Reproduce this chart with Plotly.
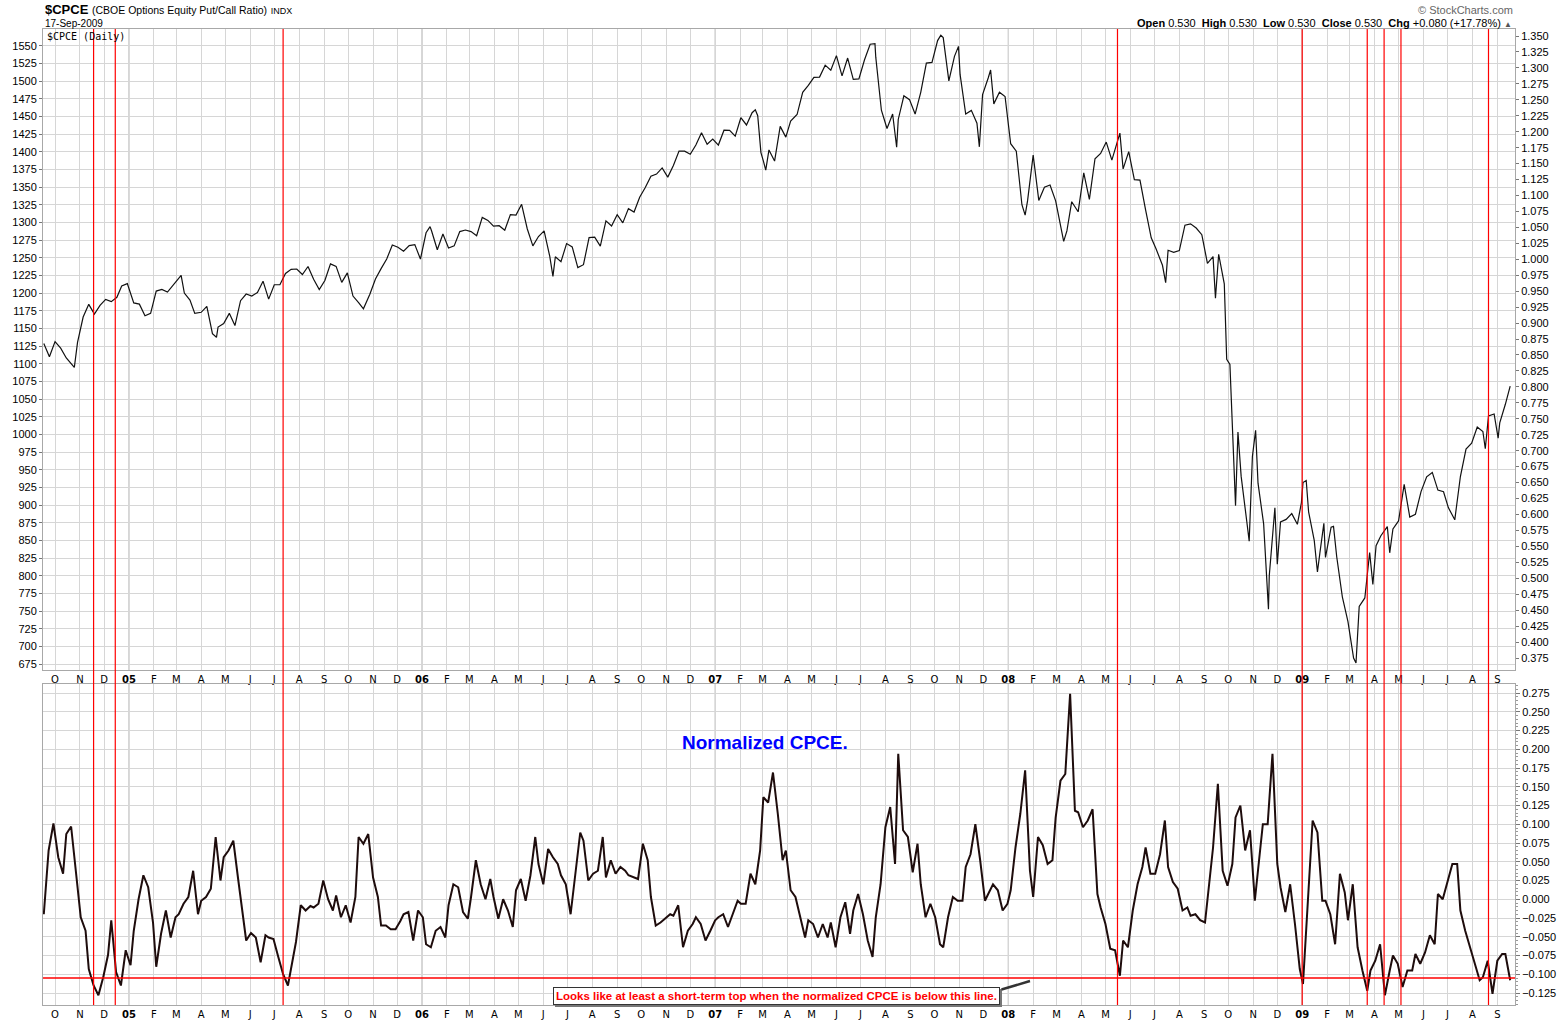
import pandas as pd
import plotly.graph_objects as go

# ---------------- data ----------------
SPX_2004 = [("2004-09-17", 1128.6), ("2004-09-24", 1110.1), ("2004-10-01", 1131.5), ("2004-10-08", 1122.1),
            ("2004-10-15", 1108.2), ("2004-10-25", 1094.8), ("2004-10-29", 1130.2), ("2004-11-05", 1166.2),
            ("2004-11-12", 1184.2), ("2004-11-19", 1170.3), ("2004-11-26", 1182.7), ("2004-12-03", 1191.2),
            ("2004-12-10", 1188.0), ("2004-12-17", 1194.2), ("2004-12-23", 1210.1), ("2004-12-30", 1213.5)]
SPX_2005 = [("2005-01-07", 1186.2), ("2005-01-14", 1184.5), ("2005-01-21", 1167.9), ("2005-01-28", 1171.4),
            ("2005-02-04", 1203.0), ("2005-02-11", 1205.3), ("2005-02-18", 1201.6), ("2005-02-25", 1211.4),
            ("2005-03-04", 1222.1), ("2005-03-07", 1225.3), ("2005-03-11", 1200.1), ("2005-03-18", 1190.2),
            ("2005-03-24", 1171.4), ("2005-04-01", 1172.9), ("2005-04-08", 1181.2), ("2005-04-15", 1142.6),
            ("2005-04-20", 1137.5), ("2005-04-22", 1152.1), ("2005-04-29", 1156.9), ("2005-05-06", 1171.4),
            ("2005-05-13", 1154.1), ("2005-05-20", 1189.3), ("2005-05-27", 1198.8), ("2005-06-03", 1196.0),
            ("2005-06-10", 1200.9), ("2005-06-17", 1217.0), ("2005-06-24", 1191.6), ("2005-07-01", 1211.9),
            ("2005-07-08", 1211.9), ("2005-07-15", 1227.9), ("2005-07-22", 1233.7), ("2005-07-29", 1234.2),
            ("2005-08-05", 1226.4), ("2005-08-12", 1237.8), ("2005-08-19", 1219.7), ("2005-08-26", 1205.1),
            ("2005-09-02", 1218.0), ("2005-09-09", 1241.5), ("2005-09-16", 1237.9), ("2005-09-23", 1215.3),
            ("2005-09-30", 1228.8), ("2005-10-07", 1195.9), ("2005-10-14", 1186.6), ("2005-10-20", 1177.8),
            ("2005-10-28", 1198.4), ("2005-11-04", 1220.1), ("2005-11-11", 1234.7), ("2005-11-18", 1248.3),
            ("2005-11-25", 1268.3), ("2005-12-02", 1265.1), ("2005-12-09", 1259.4), ("2005-12-16", 1267.3),
            ("2005-12-23", 1268.7), ("2005-12-30", 1248.3)]
SPX_2006 = [("2006-01-06", 1285.5), ("2006-01-11", 1294.2), ("2006-01-13", 1287.6), ("2006-01-20", 1261.5),
            ("2006-01-27", 1283.7), ("2006-02-03", 1264.0), ("2006-02-10", 1267.0), ("2006-02-17", 1287.2),
            ("2006-02-24", 1289.4), ("2006-03-03", 1287.2), ("2006-03-10", 1281.4), ("2006-03-17", 1307.3),
            ("2006-03-24", 1303.0), ("2006-03-31", 1294.8), ("2006-04-07", 1295.5), ("2006-04-14", 1289.1),
            ("2006-04-21", 1311.3), ("2006-04-28", 1310.6), ("2006-05-05", 1325.8), ("2006-05-12", 1291.2),
            ("2006-05-19", 1267.0), ("2006-05-26", 1280.2), ("2006-06-02", 1288.2), ("2006-06-09", 1252.3),
            ("2006-06-13", 1223.7), ("2006-06-16", 1251.5), ("2006-06-23", 1244.5), ("2006-06-30", 1270.2),
            ("2006-07-07", 1265.5), ("2006-07-14", 1236.2), ("2006-07-21", 1240.3), ("2006-07-28", 1278.6),
            ("2006-08-04", 1279.4), ("2006-08-11", 1266.7), ("2006-08-18", 1302.3), ("2006-08-25", 1295.1),
            ("2006-09-01", 1311.0), ("2006-09-08", 1299.5), ("2006-09-15", 1319.7), ("2006-09-22", 1314.8),
            ("2006-09-29", 1335.9), ("2006-10-06", 1349.6), ("2006-10-13", 1365.6), ("2006-10-20", 1368.6),
            ("2006-10-27", 1377.3), ("2006-11-03", 1364.3), ("2006-11-10", 1380.9), ("2006-11-17", 1401.2),
            ("2006-11-24", 1401.0), ("2006-12-01", 1396.7), ("2006-12-08", 1409.8), ("2006-12-15", 1427.1),
            ("2006-12-22", 1410.8), ("2006-12-29", 1418.3)]
SPX_2007 = [("2007-01-05", 1409.7), ("2007-01-12", 1430.7), ("2007-01-19", 1430.5), ("2007-01-26", 1422.2),
            ("2007-02-02", 1448.4), ("2007-02-09", 1438.1), ("2007-02-16", 1455.5), ("2007-02-20", 1459.7),
            ("2007-02-23", 1451.2), ("2007-02-27", 1399.0), ("2007-03-02", 1387.2), ("2007-03-05", 1374.1),
            ("2007-03-09", 1402.8), ("2007-03-16", 1387.0), ("2007-03-23", 1436.1), ("2007-03-30", 1420.9),
            ("2007-04-05", 1443.8), ("2007-04-13", 1452.9), ("2007-04-20", 1484.4), ("2007-04-27", 1494.1),
            ("2007-05-04", 1505.6), ("2007-05-11", 1505.9), ("2007-05-18", 1522.8), ("2007-05-25", 1515.7),
            ("2007-06-01", 1536.3), ("2007-06-08", 1507.7), ("2007-06-15", 1532.9), ("2007-06-22", 1502.6),
            ("2007-06-29", 1503.4), ("2007-07-06", 1530.4), ("2007-07-13", 1552.5), ("2007-07-19", 1553.1),
            ("2007-07-20", 1534.1), ("2007-07-27", 1459.0), ("2007-08-03", 1433.1), ("2007-08-10", 1453.6),
            ("2007-08-15", 1406.7), ("2007-08-17", 1445.9), ("2007-08-24", 1479.4), ("2007-08-31", 1474.0),
            ("2007-09-07", 1453.6), ("2007-09-14", 1484.3), ("2007-09-21", 1525.8), ("2007-09-28", 1526.8),
            ("2007-10-05", 1557.6), ("2007-10-09", 1565.2), ("2007-10-12", 1561.8), ("2007-10-19", 1500.6),
            ("2007-10-26", 1535.3), ("2007-10-31", 1549.4), ("2007-11-02", 1509.7), ("2007-11-09", 1453.7),
            ("2007-11-16", 1458.8), ("2007-11-23", 1440.7), ("2007-11-26", 1407.2), ("2007-11-30", 1481.1),
            ("2007-12-07", 1504.7), ("2007-12-10", 1516.0), ("2007-12-14", 1468.0), ("2007-12-21", 1484.5),
            ("2007-12-28", 1478.5)]
SPX_2008 = [("2008-01-04", 1411.6), ("2008-01-11", 1401.0), ("2008-01-18", 1325.2), ("2008-01-22", 1310.5),
            ("2008-01-25", 1330.6), ("2008-02-01", 1395.4), ("2008-02-08", 1331.3), ("2008-02-15", 1350.0),
            ("2008-02-22", 1353.1), ("2008-02-29", 1330.6), ("2008-03-07", 1293.4), ("2008-03-10", 1273.4),
            ("2008-03-14", 1288.1), ("2008-03-20", 1329.5), ("2008-03-28", 1315.2), ("2008-04-04", 1370.4),
            ("2008-04-11", 1332.8), ("2008-04-18", 1390.3), ("2008-04-25", 1397.8), ("2008-05-02", 1413.9),
            ("2008-05-09", 1388.3), ("2008-05-19", 1426.6), ("2008-05-23", 1375.9), ("2008-05-30", 1400.4),
            ("2008-06-06", 1360.7), ("2008-06-13", 1360.0), ("2008-06-20", 1317.9), ("2008-06-27", 1278.4),
            ("2008-07-03", 1262.9), ("2008-07-11", 1239.5), ("2008-07-15", 1214.9), ("2008-07-18", 1260.7),
            ("2008-07-25", 1257.8), ("2008-08-01", 1260.3), ("2008-08-08", 1296.3), ("2008-08-15", 1298.2),
            ("2008-08-22", 1292.2), ("2008-08-29", 1282.8), ("2008-09-05", 1242.3), ("2008-09-12", 1251.7),
            ("2008-09-15", 1192.7), ("2008-09-19", 1255.1), ("2008-09-26", 1213.3), ("2008-09-29", 1106.4),
            ("2008-10-03", 1099.2), ("2008-10-10", 899.2), ("2008-10-13", 1003.4), ("2008-10-17", 940.6),
            ("2008-10-24", 876.8), ("2008-10-27", 848.9), ("2008-10-31", 968.8), ("2008-11-04", 1005.8),
            ("2008-11-07", 931.0), ("2008-11-14", 873.3), ("2008-11-20", 752.4), ("2008-11-21", 800.0),
            ("2008-11-28", 896.2), ("2008-12-01", 816.2), ("2008-12-05", 876.1), ("2008-12-12", 879.7),
            ("2008-12-19", 887.9), ("2008-12-26", 872.8), ("2008-12-31", 903.3)]
SPX_2009 = [("2009-01-02", 931.8), ("2009-01-06", 934.7), ("2009-01-09", 890.4), ("2009-01-16", 850.1),
            ("2009-01-20", 805.2), ("2009-01-23", 832.0), ("2009-01-28", 874.1), ("2009-01-30", 825.9),
            ("2009-02-06", 868.6), ("2009-02-09", 869.9), ("2009-02-13", 826.8), ("2009-02-20", 770.1),
            ("2009-02-27", 735.1), ("2009-03-06", 683.4), ("2009-03-09", 676.5), ("2009-03-13", 756.6),
            ("2009-03-20", 768.5), ("2009-03-26", 832.9), ("2009-03-30", 787.5), ("2009-04-03", 842.5),
            ("2009-04-09", 856.6), ("2009-04-17", 869.6), ("2009-04-20", 832.4), ("2009-04-24", 866.2),
            ("2009-05-01", 877.5), ("2009-05-08", 929.2), ("2009-05-15", 882.9), ("2009-05-22", 887.0),
            ("2009-05-29", 919.1), ("2009-06-05", 940.1), ("2009-06-12", 946.2), ("2009-06-19", 921.2),
            ("2009-06-26", 918.9), ("2009-07-02", 896.4), ("2009-07-10", 879.1), ("2009-07-17", 940.4),
            ("2009-07-24", 979.3), ("2009-07-31", 987.5), ("2009-08-07", 1010.5), ("2009-08-14", 1004.1),
            ("2009-08-17", 979.7), ("2009-08-21", 1026.1), ("2009-08-28", 1028.9), ("2009-09-02", 994.8),
            ("2009-09-04", 1016.4), ("2009-09-11", 1042.7), ("2009-09-17", 1068.3)]

# normalized CPCE, one reading every 4 business days from the start date
CPCE_START = "2004-09-17"
CPCE_NORM = [
    -0.020, 0.065, 0.101, 0.056, 0.034, 0.087, 0.097, 0.038, -0.024, -0.042,
    -0.093, -0.115, -0.128, -0.104, -0.074, -0.028, -0.097, -0.115, -0.068, -0.088,
    -0.042, 0.000, 0.032, 0.016, -0.031, -0.090, -0.046, -0.015, -0.051, -0.024,
    -0.020, -0.006, 0.003, 0.038, -0.020, -0.002, 0.003, 0.014, 0.083, 0.025,
    0.056, 0.065, 0.078, 0.027, -0.024, -0.055, -0.045, -0.051, -0.084, -0.048,
    -0.051, -0.053, -0.077, -0.100, -0.115, -0.091, -0.057, -0.008, -0.015, -0.009,
    -0.011, -0.006, 0.025, 0.000, -0.015, 0.005, -0.024, -0.008, -0.031, 0.003,
    0.083, 0.074, 0.087, 0.029, 0.003, -0.035, -0.035, -0.040, -0.040, -0.029,
    -0.020, -0.017, -0.055, -0.015, -0.024, -0.060, -0.064, -0.042, -0.037, -0.051,
    -0.008, 0.020, 0.016, -0.017, -0.026, 0.003, 0.052, 0.020, 0.000, 0.027,
    0.003, -0.026, 0.000, -0.015, -0.037, 0.012, 0.027, -0.002, 0.032, 0.083,
    0.047, 0.020, 0.067, 0.056, 0.047, 0.032, 0.020, -0.020, 0.034, 0.089,
    0.078, 0.025, 0.034, 0.038, 0.083, 0.029, 0.052, 0.034, 0.043, 0.038,
    0.032, 0.029, 0.027, 0.074, 0.052, 0.003, -0.035, -0.031, -0.026, -0.020,
    -0.022, -0.008, -0.064, -0.042, -0.033, -0.024, -0.033, -0.055, -0.042, -0.028,
    -0.024, -0.020, -0.037, -0.020, -0.002, -0.006, -0.006, 0.034, 0.020, 0.065,
    0.136, 0.129, 0.169, 0.114, 0.052, 0.065, 0.012, 0.003, -0.024, -0.051,
    -0.028, -0.033, -0.051, -0.033, -0.051, -0.031, -0.064, -0.024, -0.004, -0.046,
    -0.015, 0.007, -0.020, -0.055, -0.077, -0.024, 0.020, 0.096, 0.123, 0.047,
    0.194, 0.092, 0.083, 0.036, 0.074, 0.020, -0.024, -0.006, -0.024, -0.060,
    -0.064, -0.024, 0.003, -0.002, -0.002, 0.043, 0.060, 0.100, 0.052, -0.002,
    0.007, 0.020, 0.012, -0.015, -0.006, 0.012, 0.069, 0.114, 0.172, 0.038,
    0.003, 0.083, 0.072, 0.047, 0.052, 0.109, 0.158, 0.167, 0.274, 0.118,
    0.116, 0.096, 0.105, 0.120, 0.007, -0.011, -0.033, -0.066, -0.068, -0.102,
    -0.055, -0.064, -0.015, 0.020, 0.043, 0.069, 0.034, 0.034, 0.060, 0.105,
    0.043, 0.023, 0.014, -0.015, -0.011, -0.022, -0.020, -0.028, -0.031, 0.029,
    0.069, 0.154, 0.038, 0.018, 0.047, 0.109, 0.125, 0.065, 0.092, -0.002,
    0.038, 0.100, 0.100, 0.194, 0.047, 0.016, -0.017, 0.020, -0.033, -0.093,
    -0.113, 0.003, 0.105, 0.089, -0.002, -0.002, -0.020, -0.060, 0.034, 0.009,
    -0.028, 0.020, -0.064, -0.095, -0.122, -0.095, -0.082, -0.060, -0.128, -0.095,
    -0.075, -0.086, -0.117, -0.095, -0.095, -0.073, -0.086, -0.071, -0.048, -0.060,
    0.007, 0.000, 0.025, 0.047, 0.047, -0.015, -0.042, -0.064, -0.086, -0.108,
    -0.104, -0.082, -0.126, -0.082, -0.073, -0.073, -0.108]

THRESHOLD = -0.105
SIGNAL_DATES = ["2004-11-18", "2004-12-15", "2005-07-12", "2008-05-16", "2009-01-01",
                "2009-03-23", "2009-04-13", "2009-05-04", "2009-08-21"]
MONTH_INITIALS = ["J", "F", "M", "A", "M", "J", "J", "A", "S", "O", "N", "D"]
X_RANGE = ["2004-09-16", "2009-09-23"]
LEFT_TICKS = list(range(675, 1551, 25))

TITLE_SYMBOL = "$CPCE"
TITLE_NAME = "(CBOE Options Equity Put/Call Ratio)"
TITLE_EXCH = "INDX"
DATE_TEXT = "17-Sep-2009"
PANEL_LABEL = "$CPCE (Daily)"
QUOTE = [("Open", "0.530"), ("High", "0.530"), ("Low", "0.530"), ("Close", "0.530"),
         ("Chg", "+0.080 (+17.78%)")]
NOTE_TEXT = "Looks like at least a short-term top when the normalized CPCE is below this line."
PANEL_TITLE = "Normalized CPCE."

# ---------------- build ----------------
spx = SPX_2004 + SPX_2005 + SPX_2006 + SPX_2007 + SPX_2008 + SPX_2009
spx_dates = [d for d, _ in spx]
spx_vals = [v for _, v in spx]
cpce_dates = pd.bdate_range(CPCE_START, periods=len(CPCE_NORM), freq="4B")

month_starts = pd.date_range("2004-10-01", "2009-09-01", freq="MS")
tick_text = [("<b>%02d</b>" % (d.year % 100)) if d.month == 1 else MONTH_INITIALS[d.month - 1]
             for d in month_starts]
year_starts = [d for d in month_starts if d.month == 1]

W, H = 1565, 1021
ML, MR, MT, MB = 43, 50, 29, 16
PH = H - MT - MB
TOP_DOM = [(PH - (670 - MT)) / PH, 1.0]
BOT_DOM = [0.0, (PH - (684 - MT)) / PH]

GRID = "#d6d6d6"
FRAME = "#a8a8a8"
TICKFONT = dict(family="Liberation Sans, Arial, sans-serif", size=11, color="#000")
MONTHFONT = dict(family="DejaVu Sans, Verdana, sans-serif", size=10, color="#000")

fig = go.Figure()
fig.add_trace(go.Scatter(x=spx_dates, y=spx_vals, mode="lines", xaxis="x", yaxis="y",
                         line=dict(color="#111", width=1.2), hoverinfo="skip", showlegend=False))
fig.add_trace(go.Scatter(x=[], y=[], xaxis="x", yaxis="y2", showlegend=False, hoverinfo="skip"))
fig.add_trace(go.Scatter(x=cpce_dates, y=CPCE_NORM, mode="lines", xaxis="x2", yaxis="y3",
                         line=dict(color="#1e0c0c", width=2), hoverinfo="skip", showlegend=False))

xcommon = dict(type="date", range=X_RANGE, tickmode="array", tickvals=month_starts, ticktext=tick_text,
               showgrid=True, gridcolor=GRID, gridwidth=1, showline=True, linecolor=FRAME, mirror=True,
               ticks="", tickfont=MONTHFONT, zeroline=False, tickangle=0, automargin=False)

fig.update_layout(
    template="none",
    width=W, height=H, margin=dict(l=ML, r=MR, t=MT, b=MB, pad=0, autoexpand=False),
    paper_bgcolor="white", plot_bgcolor="white",
    xaxis=dict(domain=[0, 1], anchor="y", **xcommon),
    xaxis2=dict(domain=[0, 1], anchor="y3", matches="x", **xcommon),
    yaxis=dict(domain=TOP_DOM, range=[666.5, 1574], side="left", tickmode="array", tickvals=LEFT_TICKS,
               showgrid=True, gridcolor=GRID, gridwidth=1, showline=True, linecolor=FRAME, mirror=True,
               ticks="outside", ticklen=3, tickcolor="#777", tickfont=TICKFONT, zeroline=False,
               automargin=False),
    yaxis2=dict(overlaying="y", anchor="x", side="right", range=[0.3562, 1.361], tickmode="linear",
                tick0=0.375, dtick=0.025, tickformat=".3f", showgrid=False, ticks="outside", ticklen=3,
                tickcolor="#777", tickfont=TICKFONT, zeroline=False, showline=False, automargin=False),
    yaxis3=dict(domain=BOT_DOM, anchor="x2", side="right", range=[-0.141, 0.287], tickmode="linear",
                tick0=-0.125, dtick=0.025, tickformat=".3f", showgrid=True, gridcolor=GRID, gridwidth=1,
                showline=True, linecolor=FRAME, mirror=True, ticks="outside", ticklen=4, tickcolor="#777",
                tickfont=TICKFONT, zeroline=False, automargin=False,
                minor=dict(dtick=0.005, tick0=-0.125, ticks="outside", ticklen=2, tickcolor="#999", showgrid=False)),
)

shapes = []
for d in year_starts:
    for yr in ("y domain", "y3 domain"):
        shapes.append(dict(type="line", xref="x", yref=yr, x0=d, x1=d, y0=0, y1=1,
                           line=dict(color="#a9a9a9", width=1), layer="below"))
shapes.append(dict(type="line", xref="x2 domain", yref="y3", x0=0, x1=1, y0=THRESHOLD, y1=THRESHOLD,
                   line=dict(color="#ff0000", width=1.5), layer="above"))
for d in SIGNAL_DATES:
    shapes.append(dict(type="line", xref="x", yref="paper", x0=d, x1=d, y0=0, y1=1,
                       line=dict(color="#ff0000", width=1.2), layer="above"))
fig.update_layout(shapes=shapes)

def px_x(px):
    return (px - ML) / (W - ML - MR)

def px_y(py):
    return (H - MB - py) / PH

NB = "\u00a0"
quote_txt = (NB * 2).join("<b>%s</b>%s%s" % (k, NB, v) for k, v in QUOTE) + NB + "<span style='font-size:8px;color:#555'>▲</span>"

ann = [
    dict(x=0, y=px_y(10), xref="paper", yref="paper", xanchor="left", yanchor="middle", showarrow=False,
         text="<b>%s</b> <span style='font-size:10.5px'>%s</span> <span style='font-size:9px'>%s</span>"
              % (TITLE_SYMBOL, TITLE_NAME, TITLE_EXCH),
         font=dict(family="Liberation Sans, Arial, sans-serif", size=13, color="#000")),
    dict(x=0, y=px_y(23), xref="paper", yref="paper", xanchor="left", yanchor="middle", showarrow=False,
         text=DATE_TEXT, font=dict(family="Liberation Sans, Arial, sans-serif", size=10, color="#000")),
    dict(x=px_x(45), y=px_y(36), xref="paper", yref="paper", xanchor="left", yanchor="middle",
         showarrow=False, text=PANEL_LABEL,
         font=dict(family="DejaVu Sans Mono, monospace", size=10, color="#000")),
    dict(x=1.0, y=px_y(10), xref="paper", yref="paper", xanchor="right", yanchor="middle", showarrow=False,
         text="© StockCharts.com", font=dict(family="Liberation Sans, Arial, sans-serif", size=11, color="#666")),
    dict(x=px_x(1514), y=px_y(23), xref="paper", yref="paper", xanchor="right", yanchor="middle",
         showarrow=False, text=quote_txt,
         font=dict(family="Liberation Sans, Arial, sans-serif", size=11, color="#000")),
    dict(x=px_x(765), y=px_y(742), xref="paper", yref="paper", xanchor="center", yanchor="middle",
         showarrow=False, text="<b>%s</b>" % PANEL_TITLE,
         font=dict(family="Liberation Sans, Arial, sans-serif", size=19, color="#0000ff")),
    dict(x=px_x(776), y=px_y(996), xref="paper", yref="paper", xanchor="center", yanchor="middle",
         showarrow=False, text="<b>%s</b>" % NOTE_TEXT, xshift=2, yshift=-2,
         bgcolor="#777", bordercolor="#777", borderwidth=1, borderpad=2,
         font=dict(family="Liberation Sans, Arial, sans-serif", size=11.5, color="#777")),
    dict(x=px_x(1030), y=px_y(981), xref="paper", yref="paper", showarrow=True, text="",
         ax=-30, ay=9, arrowhead=0, arrowwidth=2.5, arrowcolor="#333", standoff=0, startstandoff=0),
    dict(x=px_x(776), y=px_y(996), xref="paper", yref="paper", xanchor="center", yanchor="middle",
         showarrow=False, text="<b>%s</b>" % NOTE_TEXT,
         bgcolor="white", bordercolor="#333", borderwidth=1, borderpad=2,
         font=dict(family="Liberation Sans, Arial, sans-serif", size=11.5, color="#ff0000")),
]
fig.update_layout(annotations=ann)

POST = """
var de=document.documentElement, b=document.body;
[de,b].forEach(function(e){e.style.margin='0';e.style.padding='0';e.style.overflow='hidden';});
"""
fig.write_html("out.html", config={"displayModeBar": False}, post_script=POST)
